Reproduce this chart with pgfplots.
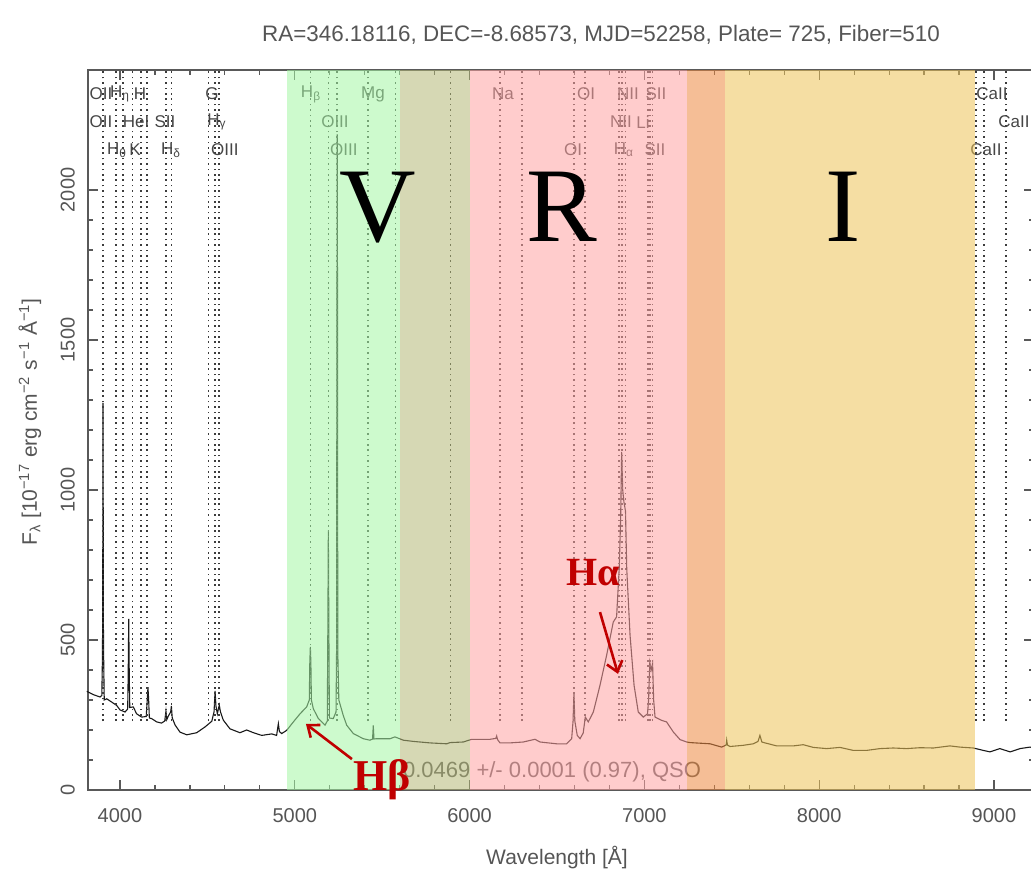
\documentclass[border=0pt]{standalone}
\usepackage{fontspec}
\setmainfont{Liberation Sans}
\newfontfamily\tnr{Liberation Serif}
\usepackage{pgfplots}
\pgfplotsset{compat=1.18}
\usetikzlibrary{arrows.meta}
\definecolor{txt}{RGB}{85,85,85}
\definecolor{labcol}{RGB}{70,70,70}
\definecolor{dotcol}{RGB}{60,60,60}
\definecolor{redc}{RGB}{192,0,0}
\definecolor{bgreen}{RGB}{164,246,164}
\definecolor{bolive}{RGB}{180,184,119}
\definecolor{bpink}{RGB}{255,162,162}
\definecolor{borange}{RGB}{237,137,64}
\definecolor{btan}{RGB}{237,195,88}
\newcommand{\lbl}[3]{\node[font=\fontsize{8.5}{8.5}\selectfont, text=labcol, inner sep=0pt] at (axis cs:#1,#2) {#3};}
\pgfplotstableread{
lam flux
3810 329
3847 318
3886 310
3896 315
3899 420
3901 560
3903 1290
3905 560
3907 420
3910 300
3924 304
3953 293
3981 282
4000 267
4029 260
4044 270
4047 387
4050 570
4053 387
4056 275
4076 277
4095 254
4124 243
4150 245
4156 300
4160 343
4164 300
4168 240
4181 238
4210 227
4238 223
4256 230
4263 263
4268 235
4277 247
4290 260
4294 280
4299 240
4315 217
4343 193
4382 184
4439 191
4486 210
4525 229
4538 260
4544 330
4549 280
4557 254
4568 283
4575 260
4591 233
4629 204
4686 191
4725 200
4763 191
4811 182
4868 187
4896 182
4906 221
4912 195
4925 188
4954 199
4992 227
5030 254
5068 277
5083 300
5086 427
5089 477
5092 427
5095 300
5106 271
5135 238
5173 216
5186 230
5189 530
5192 865
5195 530
5198 240
5220 238
5236 260
5239 460
5241 1507
5242 1787
5243 2185
5244 1787
5246 460
5252 300
5277 249
5297 216
5335 188
5392 171
5430 166
5445 170
5449 215
5453 170
5468 171
5545 171
5573 177
5621 166
5678 162
5773 157
5869 154
5888 158
5964 160
6012 169
6060 169
6117 169
6150 172
6155 180
6160 168
6174 157
6231 157
6307 160
6374 169
6403 160
6498 154
6555 154
6584 171
6592 230
6597 325
6602 230
6616 182
6632 171
6650 190
6662 243
6679 227
6708 260
6746 349
6784 449
6822 560
6841 577
6856 738
6864 900
6870 1127
6876 1000
6883 960
6892 930
6899 738
6918 516
6941 349
6965 260
6994 243
7018 254
7024 300
7031 425
7039 400
7047 420
7053 300
7061 243
7099 232
7127 227
7166 193
7204 168
7242 160
7262 158
7376 154
7442 143
7468 150
7471 166
7475 150
7490 145
7566 149
7623 154
7650 162
7661 182
7672 160
7690 157
7757 147
7852 147
7909 151
7966 142
8043 138
8119 142
8195 132
8271 132
8348 138
8424 140
8500 138
8577 141
8653 140
8748 147
8805 143
8882 140
8939 132
8977 127
9034 138
9092 127
9149 138
9206 143
9228 140
}\spec
\begin{document}
\begin{tikzpicture}
\begin{axis}[
  name=ax, at={(0,0)}, anchor=south west,
  scale only axis, width=473pt, height=360pt,
  xmin=3817, xmax=9229, ymin=0, ymax=2400,
  clip=false,
  axis line style={draw=black!65, line width=0.7pt},
  tick style={draw=black!65, line width=0.6pt},
  tick align=inside,
  major tick length=5pt, minor tick length=2.5pt,
  xtick={4000,5000,...,9000}, minor x tick num=4,
  ytick={0,500,...,2000}, minor y tick num=4,
  scaled ticks=false,
  /pgf/number format/1000 sep={},
  /pgf/number format/assume math mode=true,
  ticklabel style={font=\fontsize{10}{10}\selectfont, text=txt},
  xticklabel shift=5.6pt,
  yticklabel style={rotate=90, anchor=south},
  yticklabel shift=3.1pt,
  xlabel={Wavelength [Å]},
  ylabel={F\textsubscript{λ} [10\textsuperscript{−17} erg cm\textsuperscript{−2} s\textsuperscript{−1} Å\textsuperscript{−1}]},
  label style={font=\fontsize{10.5}{10.5}\selectfont, text=txt},
  xlabel style={at={(axis description cs:0.4958,-0.0944)}, anchor=center},
  ylabel style={at={(axis description cs:-0.0613,0.511)}, anchor=center},
  title={RA=346.18116, DEC=-8.68573, MJD=52258, Plate= 725, Fiber=510},
  title style={at={(axis description cs:0.5423,1.032)}, anchor=center, font=\fontsize{11.2}{11.2}\selectfont, text=txt},
]
\addplot[black!90, line width=0.55pt] table[x=lam, y=flux] {\spec};
\pgfplotsinvokeforeach{3901,3904,3976,4016,4071,4119,4155,4263,4294,4507,4545,4568,5089,5192,5242,5420,5577,5890,6173,6300,6596,6661,6855,6871,6892,7022,7031,7047,8897,8943,9068}{
  \addplot[dotcol, line width=0.8pt, dash pattern=on 0.8pt off 1.9pt] coordinates {(#1,230) (#1,2400)};
}
% line labels
\lbl{3891}{2320}{OII}\lbl{4000}{2320}{H\textsubscript{η}}\lbl{4114}{2320}{H}\lbl{4526}{2320}{G}
\lbl{5093}{2320}{H\textsubscript{β}}\lbl{5447}{2320}{Mg}\lbl{6191}{2320}{Na}\lbl{6666}{2320}{OI}
\lbl{6906}{2320}{NII}\lbl{7066}{2320}{SII}\lbl{8989}{2320}{CaII}
\lbl{3891}{2227}{OII}\lbl{4092}{2227}{HeI}\lbl{4257}{2227}{SII}\lbl{4555}{2227}{H\textsubscript{γ}}
\lbl{5230}{2227}{OIII}\lbl{6866}{2227}{NII}\lbl{6992}{2227}{Li}\lbl{9114}{2227}{CaII}
\lbl{3983}{2133}{H\textsubscript{θ}}\lbl{4086}{2133}{K}\lbl{4292}{2133}{H\textsubscript{δ}}\lbl{4600}{2133}{OIII}
\lbl{5281}{2133}{OIII}\lbl{6592}{2133}{OI}\lbl{6883}{2133}{H\textsubscript{α}}\lbl{7061}{2133}{SII}\lbl{8954}{2133}{CaII}
\node[font=\fontsize{11}{11}\selectfont, text=txt, anchor=base east] at (axis cs:7364,43) {0.0469 +/- 0.0001 (0.97), QSO};
% filter bands
\addplot[draw=none, fill=bgreen, fill opacity=0.55] coordinates {(4955,0) (5602,0) (5602,2400) (4955,2400)} -- cycle;
\addplot[draw=none, fill=bolive, fill opacity=0.55] coordinates {(5602,0) (6002,0) (6002,2400) (5602,2400)} -- cycle;
\addplot[draw=none, fill=bpink, fill opacity=0.55] coordinates {(6002,0) (7244,0) (7244,2400) (6002,2400)} -- cycle;
\addplot[draw=none, fill=borange, fill opacity=0.55] coordinates {(7244,0) (7461,0) (7461,2400) (7244,2400)} -- cycle;
\addplot[draw=none, fill=btan, fill opacity=0.55] coordinates {(7461,0) (8891,0) (8891,2400) (7461,2400)} -- cycle;
% band letters
\node[font=\tnr\fontsize{53}{53}\selectfont, anchor=base] at (axis cs:5476,1827) {V};
\node[font=\tnr\fontsize{53}{53}\selectfont, anchor=base] at (axis cs:6529,1827) {R};
\node[font=\tnr\fontsize{53}{53}\selectfont, anchor=base] at (axis cs:8136,1827) {I};
% annotations
\node[font=\tnr\bfseries\fontsize{22}{22}\selectfont, text=redc, anchor=base] at (axis cs:5499,-3) {Hβ};
\node[font=\tnr\bfseries\fontsize{20}{20}\selectfont, text=redc, anchor=base] at (axis cs:6706,683) {Hα};
\draw[redc, line width=1.3pt, -{Straight Barb[length=5pt,width=8pt]}] (axis cs:5327,103) -- (axis cs:5064,220);
\draw[redc, line width=1.3pt, -{Straight Barb[length=5pt,width=8pt]}] (axis cs:6746,593) -- (axis cs:6849,387);
\end{axis}
\pgfresetboundingbox
\path[use as bounding box] (-44pt,-40.5pt) rectangle (471.5pt,395pt);
\end{tikzpicture}
\end{document}
